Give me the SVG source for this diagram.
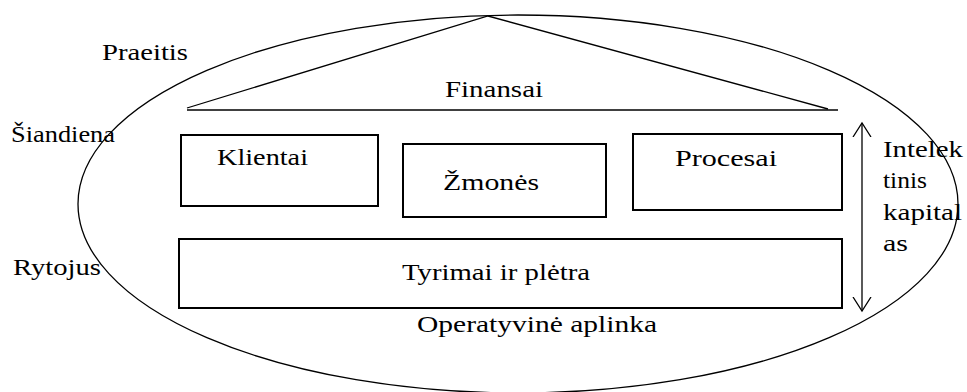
<svg xmlns="http://www.w3.org/2000/svg" width="967" height="392" viewBox="0 0 967 392">
  <style>
    .bg { fill: #ffffff; }
    .line { fill: none; stroke: #000000; stroke-width: 1.3; }
    .box { fill: none; stroke: #000000; stroke-width: 2; }
    text { fill: #000000; }
  </style>
  <defs>
    <marker id="vhead" viewBox="0 0 20 20" refX="14" refY="10" markerWidth="20" markerHeight="20" markerUnits="userSpaceOnUse" orient="auto-start-reverse">
      <path d="M0,1 L14,10 L0,19" fill="none" stroke="#000000" stroke-width="1.3"/>
    </marker>
  </defs>

  <rect class="bg" x="0" y="0" width="967" height="392"/>

  <!-- outer environment ellipse -->
  <g id="environment">
    <ellipse class="line" cx="518" cy="204" rx="440" ry="189"/>
  </g>

  <g font-family="Liberation Serif, DejaVu Serif, Times New Roman, serif" font-size="24">
    <!-- roof: Finansai -->
    <g id="finansai">
      <polyline class="line" points="187,108 488,16 828,109"/>
      <line class="box" x1="187" y1="110" x2="838" y2="110" style="stroke-width:1.6"/>
      <text x="445" y="97" textLength="98" lengthAdjust="spacingAndGlyphs">Finansai</text>
    </g>

    <g id="klientai">
      <rect class="box" x="181" y="135" width="197" height="71"/>
      <text x="217" y="165" textLength="91" lengthAdjust="spacingAndGlyphs">Klientai</text>
    </g>

    <g id="zmones">
      <rect class="box" x="403" y="144" width="203" height="73"/>
      <text x="443" y="190" textLength="96" lengthAdjust="spacingAndGlyphs">Žmonės</text>
    </g>

    <g id="procesai">
      <rect class="box" x="633" y="134" width="209" height="76"/>
      <text x="675" y="166" textLength="102" lengthAdjust="spacingAndGlyphs">Procesai</text>
    </g>

    <g id="tyrimai">
      <rect class="box" x="179" y="239" width="663" height="69"/>
      <text x="402" y="280" textLength="188" lengthAdjust="spacingAndGlyphs">Tyrimai ir plėtra</text>
    </g>

    <!-- side labels -->
    <g id="time-labels">
      <text x="102" y="60" textLength="86" lengthAdjust="spacingAndGlyphs">Praeitis</text>
      <text x="11" y="142" textLength="104" lengthAdjust="spacingAndGlyphs">Šiandiena</text>
      <text x="13" y="275" textLength="88" lengthAdjust="spacingAndGlyphs">Rytojus</text>
    </g>

    <g id="operatyvine">
      <text x="417" y="332" textLength="240" lengthAdjust="spacingAndGlyphs">Operatyvinė aplinka</text>
    </g>

    <g id="intelektinis">
      <text x="883" y="157" textLength="80" lengthAdjust="spacingAndGlyphs">Intelek</text>
      <text x="883" y="188" textLength="44" lengthAdjust="spacingAndGlyphs">tinis</text>
      <text x="883" y="220" textLength="79" lengthAdjust="spacingAndGlyphs">kapital</text>
      <text x="883" y="251" textLength="25" lengthAdjust="spacingAndGlyphs">as</text>
    </g>
  </g>

  <!-- connectors -->
  <g id="connectors">
    <line class="line" x1="862" y1="123" x2="862" y2="311" marker-start="url(#vhead)" marker-end="url(#vhead)"/>
  </g>
</svg>
